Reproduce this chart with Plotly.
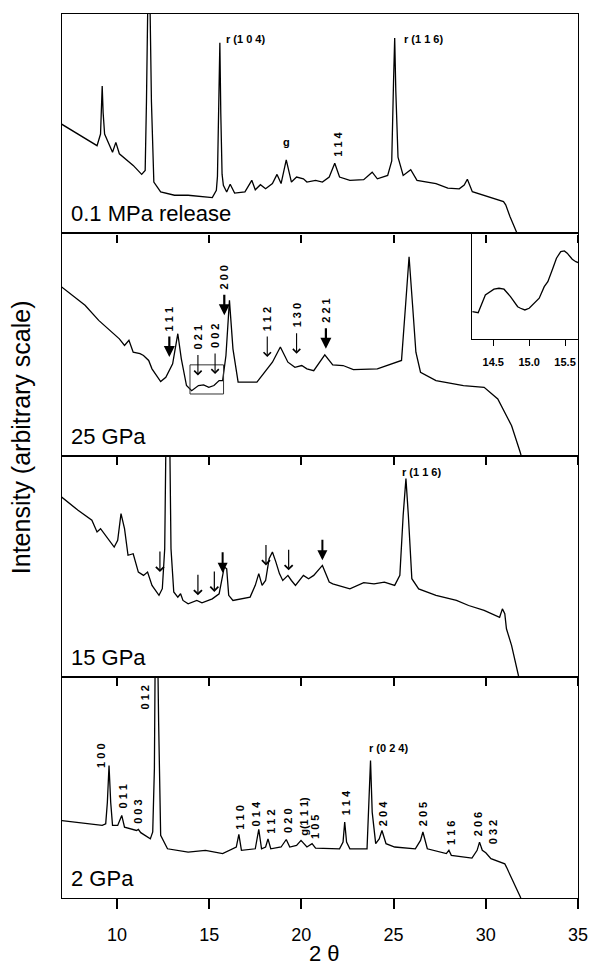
import plotly.graph_objects as go

# ---------------- data (2-theta, relative intensity in % of panel height) ----------------
P1_X = [7.0, 8.92, 9.11, 9.16, 9.20, 9.25, 9.33, 9.76, 9.94, 10.13, 10.88, 11.34, 11.53, 11.60, 11.65,
        11.72, 11.80, 11.87, 12.0, 12.37, 13.12, 13.86, 15.17, 15.39, 15.45, 15.53, 15.58, 15.63, 15.70,
        15.77, 15.95, 16.14, 16.38, 16.94, 17.31, 17.5, 17.78, 18.06, 18.43, 18.68, 18.9, 19.18, 19.46,
        19.74, 20.11, 20.3, 20.77, 21.14, 21.51, 21.81, 22.07, 22.63, 23.38, 23.84, 24.12, 24.68, 24.9,
        25.0, 25.06, 25.12, 25.24, 25.52, 25.93, 26.27, 27.3, 27.94, 28.56, 28.83, 29.0, 29.27, 29.98,
        30.96, 31.08, 31.31, 31.66, 31.70]
P1_Y = [49.8, 40.0, 45.3, 58.0, 67.2, 55.0, 45.3, 37.0, 41.5, 36.3, 31.0, 26.9, 28.7, 60.0, 100.0,
        135.0, 100.0, 60.0, 23.4, 18.9, 17.4, 17.4, 16.3, 19.6, 26.0, 60.0, 86.9, 55.0, 27.0,
        21.9, 18.9, 22.4, 18.4, 18.9, 24.2, 19.9, 22.2, 20.4, 22.7, 26.9, 22.7, 33.5, 23.4,
        25.7, 24.9, 23.4, 24.2, 23.4, 25.7, 32.0, 25.7, 24.2, 24.5, 27.9, 24.9, 26.4, 33.0,
        70.0, 89.1, 65.0, 34.7, 26.4, 29.0, 24.2, 22.7, 20.6, 20.3, 22.0, 24.7, 19.0, 17.1,
        14.5, 13.0, 7.7, 0.8, 0.0]

P2_X = [7.0, 8.27, 9.01, 10.13, 10.41, 10.65, 10.88, 11.25, 11.44, 11.72, 11.9, 12.37, 12.65, 13.02,
        13.3, 13.49, 13.77, 14.05, 14.42, 14.7, 14.98, 15.26, 15.54, 15.73, 15.91, 16.1, 16.29, 16.57,
        17.59, 18.06, 18.43, 18.86, 19.27, 19.65, 20.02, 20.3, 20.67, 21.27, 21.7, 22.26, 22.82, 24.12,
        24.87, 25.43, 25.65, 25.84, 26.03, 26.21, 26.46, 27.3, 28.79, 29.91, 30.65, 31.03, 31.4, 31.87,
        31.92]
P2_Y = [75.9, 67.7, 60.9, 52.6, 49.6, 51.9, 46.6, 45.9, 45.1, 42.9, 39.1, 33.4, 35.3, 41.4,
        54.9, 43.6, 31.6, 29.3, 31.6, 31.9, 30.8, 31.6, 33.8, 33.8, 45.1, 69.9, 48.1, 33.1,
        33.1, 38.3, 42.1, 48.9, 42.1, 39.8, 40.6, 39.1, 38.3, 45.4, 40.9, 40.6, 38.8, 39.1,
        41.4, 42.9, 67.7, 89.5, 67.7, 46.6, 37.6, 33.8, 31.6, 30.8, 25.6, 19.5, 13.5, 1.5,
        0.0]

P3_X = [7.0, 7.89, 8.64, 8.92, 9.11, 9.39, 9.85, 10.04, 10.22, 10.41, 10.6, 10.88, 11.16, 11.44, 11.66,
        11.9, 12.28, 12.46, 12.59, 12.66, 12.76, 12.86, 12.93, 13.08, 13.3, 13.45, 13.58, 13.86, 14.33,
        14.61, 15.17, 15.54, 15.73, 15.82, 15.95, 16.06, 16.29, 17.22, 17.5, 17.69, 17.87, 18.06, 18.25,
        18.43, 18.62, 18.81, 18.99, 19.27, 19.46, 19.68, 20.11, 20.39, 20.67, 21.14, 21.51, 21.7, 22.63,
        23.38, 23.94, 24.5, 25.06, 25.34, 25.52, 25.67, 25.8, 25.99, 26.36, 27.3, 28.41, 29.07, 29.91,
        30.75, 30.9, 31.03, 31.12, 31.4, 31.77, 31.8]
P3_Y = [81.4, 75.4, 70.9, 65.6, 67.1, 64.1, 58.8, 61.8, 73.9, 67.1, 55.1, 55.8, 47.5, 46.0, 47.5,
        41.5, 37.0, 40.0, 58.1, 110.0, 135.0, 110.0, 58.1, 38.5, 36.2, 37.7, 34.7, 33.2, 34.7,
        33.6, 35.4, 37.7, 46.8, 49.8, 49.0, 37.0, 34.7, 36.2, 41.5, 46.8, 41.5, 43.7, 53.5,
        56.6, 52.0, 46.8, 43.7, 46.0, 43.7, 41.5, 46.0, 44.5, 46.0, 50.5, 43.0, 42.2, 39.9,
        42.7, 42.2, 43.0, 41.5, 46.0, 73.2, 89.7, 73.2, 44.5, 39.9, 37.0, 34.7, 32.4, 30.2,
        27.1, 30.9, 28.7, 21.9, 14.3, 0.8, 0.0]

P4_X = [7.0, 7.71, 8.27, 9.2, 9.39, 9.48, 9.57, 9.66, 9.76, 10.04, 10.26, 10.41, 11.06, 11.16, 11.29,
        11.81, 11.94, 12.03, 12.09, 12.18, 12.26, 12.37, 12.74, 13.86, 14.8, 15.73, 16.47, 16.61, 16.75,
        17.5, 17.69, 17.84, 18.06, 18.19, 18.34, 18.9, 19.18, 19.37, 19.74, 19.98, 20.3, 20.58, 20.77,
        22.07, 22.26, 22.35, 22.45, 22.63, 23.56, 23.68, 23.75, 23.84, 24.03, 24.22, 24.37, 24.59, 25.06,
        26.18, 26.46, 26.59, 26.83, 27.86, 28.0, 28.13, 29.25, 29.53, 29.66, 29.81, 30.0, 30.28, 31.03,
        31.12, 31.4, 31.87, 31.9]
P4_Y = [35.1, 34.4, 33.6, 32.9, 33.6, 43.4, 60.0, 43.4, 32.9, 32.9, 37.4, 32.1, 30.6, 31.1, 29.6,
        26.8, 29.9, 58.5, 130.0, 130.0, 79.6, 28.4, 22.3, 20.8, 21.6, 20.1, 23.1, 28.8, 21.6,
        22.3, 31.1, 22.3, 23.1, 26.8, 22.3, 23.1, 26.5, 23.1, 23.8, 26.1, 23.1, 24.6, 22.6,
        22.3, 25.3, 34.4, 25.3, 22.3, 22.3, 43.4, 62.3, 38.9, 24.6, 26.8, 30.6, 24.6, 23.1,
        22.3, 26.1, 29.9, 22.3, 20.1, 21.6, 19.3, 18.1, 21.6, 25.3, 21.6, 20.5, 17.8, 15.5,
        14.0, 8.7, 0.5, 0.0]

# inset: 25 GPa, 14.2-15.7 deg detail
INSET_X = [14.21, 14.29, 14.39, 14.51, 14.58, 14.65, 14.74, 14.84, 14.88, 14.94, 15.0, 15.05, 15.14,
           15.21, 15.26, 15.33, 15.38, 15.44, 15.49, 15.53, 15.6, 15.65, 15.68]
INSET_Y = [26.1, 25.1, 41.9, 47.3, 48.2, 47.3, 40.3, 30.8, 29.3, 27.7, 29.3, 32.4, 38.8,
           49.7, 54.4, 67.1, 76.6, 82.8, 83.5, 81.3, 75.6, 73.3, 72.5]
INSET_RANGE_X = [14.2, 15.68]
INSET_TICKS = [14.5, 15.0, 15.5]
ZOOM_BOX_X = [13.96, 15.78]
ZOOM_BOX_Y = [27.8, 40.9]

X_RANGE = [7.02, 35]
X_TICKS = [10, 15, 20, 25, 30, 35]
PANEL_NAMES = ["0.1 MPa release", "25 GPa", "15 GPa", "2 GPa"]

# peak labels
L1_X = [15.82, 25.43]
L1_Y = [88.4, 88.4]
L1_TEXT = ["r (1 0 4)", "r (1 1 6)"]
L1R_X = [19.18, 21.98]
L1R_Y = [41.5, 40.8]
L1R_TEXT = ["g", "1 1 4"]
L1R_ANGLE = [0, -90]

A2_X = [12.84, 14.39, 15.32, 15.82, 18.15, 19.74, 21.33]
A2_Y = [44.4, 36.1, 36.8, 63.2, 44.4, 45.9, 48.1]
A2_TEXT = ["1 1 1", "0 2 1", "0 0 2", "2 0 0", "1 1 2", "1 3 0", "2 2 1"]
A2_BOLD = [True, False, False, True, False, False, True]

A3_X = [12.33, 14.39, 15.28, 15.73, 18.08, 19.31, 21.14]
A3_Y = [47.5, 37.0, 38.5, 47.2, 50.5, 48.3, 52.8]
A3_BOLD = [False, False, False, True, False, False, True]
L3_X = [25.34]
L3_Y = [92.8]
L3_TEXT = ["r (1 1 6)"]

L4_X = [9.16, 10.32, 11.16, 11.53, 16.66, 17.59, 18.34, 19.24, 20.17, 20.73, 22.39, 24.4, 26.59,
        28.08, 29.59, 30.37]
L4_Y = [64.6, 45.9, 39.2, 90.9, 36.3, 38.3, 34.4, 35.1, 37.0, 32.1, 43.1, 38.2, 37.9,
        29.6, 33.5, 29.6]
L4_TEXT = ["1 0 0", "0 1 1", "0 0 3", "0 1 2", "1 1 0", "0 1 4", "1 1 2", "0 2 0", "g(1 1 1)",
           "1 0 5", "1 1 4", "2 0 4", "2 0 5", "1 1 6", "2 0 6", "0 3 2"]
L4H_X = [24.72]
L4H_Y = [68.0]
L4H_TEXT = ["r (0 2 4)"]

# ---------------- figure ----------------
FONT = "Liberation Sans, Arial, Helvetica, sans-serif"
DOMAINS = [[0.7518, 1.0], [0.5002, 0.7518], [0.2497, 0.5002], [0.0, 0.2497]]
LW = 1.2
fig = go.Figure()

series = [(P1_X, P1_Y), (P2_X, P2_Y), (P3_X, P3_Y), (P4_X, P4_Y)]
for i, (xs, ys) in enumerate(series, start=1):
    sfx = "" if i == 1 else str(i)
    fig.add_trace(go.Scatter(x=xs, y=ys, mode="lines", line=dict(color="black", width=1.3),
                             xaxis="x" + sfx, yaxis="y" + sfx, showlegend=False, hoverinfo="skip"))
fig.add_trace(go.Scatter(x=INSET_X, y=INSET_Y, mode="lines", line=dict(color="black", width=1.3),
                         xaxis="x5", yaxis="y5", showlegend=False, hoverinfo="skip"))

layout = dict(width=600, height=973, margin=dict(l=62, r=12, t=14, b=75),
              paper_bgcolor="white", plot_bgcolor="rgba(0,0,0,0)",
              font=dict(family=FONT, color="black"), showlegend=False)

for i in range(1, 5):
    sfx = "" if i == 1 else str(i)
    layout["xaxis" + sfx] = dict(
        domain=[0, 1], range=X_RANGE, anchor="y" + sfx, side="bottom",
        ticks="outside", ticklen=8 if i < 4 else 10, tickwidth=1.5, tickcolor="black",
        tickvals=X_TICKS, showticklabels=(i == 4), tickfont=dict(size=18),
        ticklabelstandoff=10,
        showline=True, linecolor="black", linewidth=LW, mirror=True,
        showgrid=False, zeroline=False)
    layout["yaxis" + sfx] = dict(
        domain=DOMAINS[i - 1], range=[0, 100], anchor="x" + sfx,
        showline=True, linecolor="black", linewidth=LW, mirror=True,
        ticks="", showticklabels=False, showgrid=False, zeroline=False)

layout["xaxis5"] = dict(domain=[0.794, 1.0], range=INSET_RANGE_X, anchor="y5",
                        ticks="outside", ticklen=6, tickwidth=1.3, tickcolor="black",
                        tickvals=INSET_TICKS, ticktext=["<b>%.1f</b>" % t for t in INSET_TICKS],
                        tickfont=dict(size=11), ticklabelstandoff=6,
                        showline=True, linecolor="black", linewidth=LW, mirror=True,
                        showgrid=False, zeroline=False)
layout["yaxis5"] = dict(domain=[0.632, 0.7518], range=[0, 100], anchor="x5",
                        showline=True, linecolor="black", linewidth=LW, mirror=True,
                        ticks="", showticklabels=False, showgrid=False, zeroline=False)

fig.update_layout(**layout)

ann = []
LBL = dict(family=FONT, size=11, color="black")


def ax_ref(i):
    return ("x" if i == 1 else "x%d" % i), ("y" if i == 1 else "y%d" % i)


# panel names
for i, name in enumerate(PANEL_NAMES, start=1):
    xr, yr = ax_ref(i)
    ann.append(dict(text=name, xref=xr + " domain", yref=yr + " domain", x=0, y=0,
                    xanchor="left", yanchor="bottom", xshift=7, yshift=5, showarrow=False,
                    font=dict(family=FONT, size=22, color="black")))

# panel 1 labels
for x, y, t in zip(L1_X, L1_Y, L1_TEXT):
    ann.append(dict(text="<b>%s</b>" % t, xref="x", yref="y", x=x, y=y, xanchor="left",
                    yanchor="middle", showarrow=False, font=LBL))
for x, y, t, a in zip(L1R_X, L1R_Y, L1R_TEXT, L1R_ANGLE):
    ann.append(dict(text="<b>%s</b>" % t, xref="x", yref="y", x=x, y=y, xanchor="center",
                    yanchor="middle", textangle=a, showarrow=False, font=LBL))

# arrows panel 2 & 3
ARROW_LEN = 22
LABEL_OFF = 38
for x, y, t, b in zip(A2_X, A2_Y, A2_TEXT, A2_BOLD):
    ann.append(dict(text="", xref="x2", yref="y2", x=x, y=y, ax=0, ay=-ARROW_LEN,
                    showarrow=True, arrowhead=2 if b else 4, arrowsize=1.0 if b else 1.3,
                    arrowwidth=2.2 if b else 1.1, arrowcolor="black"))
    ann.append(dict(text="<b>%s</b>" % t, xref="x2", yref="y2", x=x, y=y, yshift=LABEL_OFF,
                    xanchor="center", yanchor="middle", textangle=-90, showarrow=False, font=LBL))
for x, y, b in zip(A3_X, A3_Y, A3_BOLD):
    ann.append(dict(text="", xref="x3", yref="y3", x=x, y=y, ax=0, ay=-ARROW_LEN,
                    showarrow=True, arrowhead=2 if b else 4, arrowsize=1.0 if b else 1.3,
                    arrowwidth=2.0 if b else 1.2, arrowcolor="black"))
for x, y, t in zip(L3_X, L3_Y, L3_TEXT):
    ann.append(dict(text="<b>%s</b>" % t, xref="x3", yref="y3", x=x, y=y, xanchor="left",
                    yanchor="middle", showarrow=False, font=LBL))

# panel 4 labels
for x, y, t in zip(L4_X, L4_Y, L4_TEXT):
    ann.append(dict(text="<b>%s</b>" % t, xref="x4", yref="y4", x=x, y=y, xanchor="center",
                    yanchor="middle", textangle=-90, showarrow=False, font=LBL))
for x, y, t in zip(L4H_X, L4H_Y, L4H_TEXT):
    ann.append(dict(text="<b>%s</b>" % t, xref="x4", yref="y4", x=x, y=y, xanchor="center",
                    yanchor="middle", showarrow=False, font=LBL))

# axis titles
ann.append(dict(text="2 θ", xref="paper", yref="paper", x=0.508, y=-0.063, xanchor="center",
                yanchor="middle", showarrow=False, font=dict(family=FONT, size=22, color="black")))
ann.append(dict(text="Intensity (arbitrary scale)", xref="paper", yref="paper", x=-0.078, y=0.521,
                xanchor="center", yanchor="middle", textangle=-90, showarrow=False,
                font=dict(family=FONT, size=25, color="black")))

fig.update_layout(annotations=ann)
fig.add_shape(type="rect", xref="x2", yref="y2", x0=ZOOM_BOX_X[0], x1=ZOOM_BOX_X[1],
              y0=ZOOM_BOX_Y[0], y1=ZOOM_BOX_Y[1], line=dict(color="#333", width=1))

fig.write_html("out.html")
